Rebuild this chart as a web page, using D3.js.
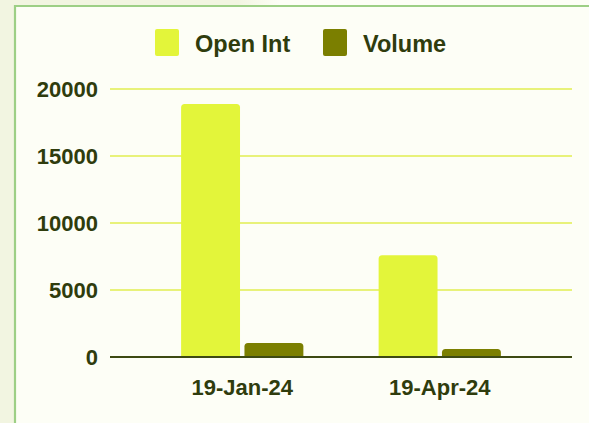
<!DOCTYPE html>
<html><head><meta charset="utf-8">
<script src="https://cdn.jsdelivr.net/npm/d3@7"></script>
<style>html,body{margin:0;padding:0;background:#fdfef6;overflow:hidden}</style>
</head><body>
<svg id="c" width="589" height="423"></svg>
<script>
const categories = ["19-Jan-24", "19-Apr-24"];
const seriesNames = ["Open Int", "Volume"];
const openInt = [18880, 7600];
const volume = [1050, 600];
const yTicks = [0, 5000, 10000, 15000, 20000];

const colors = {"Open Int": "#e3f53a", "Volume": "#7b7f00"};
const textColor = "#2f3c0d";
const font = "'Liberation Sans', Arial, Helvetica, sans-serif";

const svg = d3.select("#c");
const W = 589, H = 423;

// page background pieces
const defs = svg.append("defs");
const g1 = defs.append("linearGradient").attr("id","tg").attr("x1","0").attr("x2","1");
g1.append("stop").attr("offset","0").attr("stop-color","#f2f5e1");
g1.append("stop").attr("offset","0.85").attr("stop-color","#f2f5e1");
g1.append("stop").attr("offset","1").attr("stop-color","#fdfef6");
svg.append("rect").attr("x",0).attr("y",0).attr("width",W).attr("height",H).attr("fill","#fdfef6");
svg.append("rect").attr("x",0).attr("y",0).attr("width",280).attr("height",6).attr("fill","url(#tg)");
svg.append("rect").attr("x",0).attr("y",0).attr("width",14).attr("height",H).attr("fill","#f2f5e1");
// panel border
svg.append("path").attr("d",`M15,${H} V6 H${W}`).attr("fill","none").attr("stroke","#9dcf85").attr("stroke-width",2.2);

const pLeft = 110, pRight = 572, pTop = 89, pBottom = 357;
const x0 = d3.scaleBand().domain(categories).range([pLeft, pRight]).paddingInner(0.381).paddingOuter(0.36);
const x1 = d3.scaleBand().domain(seriesNames).range([0, x0.bandwidth()]).paddingInner(0.07);
const y = d3.scaleLinear().domain([0, 20000]).range([pBottom, pTop]);

// gridlines + y labels via axis
const yAxis = d3.axisLeft(y).tickValues(yTicks).tickSize(0).tickPadding(12).tickFormat(d3.format("d"));
const ya = svg.append("g").attr("transform",`translate(${pLeft},0)`).call(yAxis);
ya.select(".domain").remove();
ya.selectAll("text").attr("font-family",font).attr("font-weight","bold").attr("font-size","22px").attr("fill",textColor);
svg.append("g").selectAll("line").data(yTicks.filter(d=>d>0)).join("line")
  .attr("x1",pLeft).attr("x2",pRight).attr("y1",d=>y(d)).attr("y2",d=>y(d))
  .attr("stroke","#e8f27a").attr("stroke-width",2);

// bars
const data = categories.map((c,i)=>({cat:c, vals:[{k:"Open Int",v:openInt[i]},{k:"Volume",v:volume[i]}]}));
function topRounded(x, yTop, w, h, r){
  r = Math.min(r, h, w/2);
  return `M${x},${yTop+h} V${yTop+r} Q${x},${yTop} ${x+r},${yTop} H${x+w-r} Q${x+w},${yTop} ${x+w},${yTop+r} V${yTop+h} Z`;
}
svg.append("g").selectAll("g").data(data).join("g")
  .attr("transform",d=>`translate(${x0(d.cat)},0)`)
  .selectAll("path").data(d=>d.vals).join("path")
  .attr("d",d=>topRounded(x1(d.k), y(d.v), x1.bandwidth(), pBottom - y(d.v), 3.5))
  .attr("fill",d=>colors[d.k]);

// x axis
const xAxis = d3.axisBottom(x0).tickSize(0).tickPadding(22);
const xa = svg.append("g").attr("transform",`translate(0,${pBottom})`).call(xAxis);
xa.select(".domain").remove();
xa.selectAll("text").attr("font-family",font).attr("font-weight","bold").attr("font-size","22px").attr("fill",textColor);
svg.append("line").attr("x1",pLeft).attr("x2",pRight).attr("y1",pBottom).attr("y2",pBottom)
  .attr("stroke","#3d4a12").attr("stroke-width",2);

// legend
const legendItems = [{k:"Open Int", sx:155, tx:195},{k:"Volume", sx:323, tx:363}];
const lg = svg.append("g");
legendItems.forEach(it=>{
  lg.append("rect").attr("x",it.sx).attr("y",29).attr("width",24).attr("height",27).attr("rx",2)
    .attr("fill",colors[it.k]);
  lg.append("text").attr("x",it.tx).attr("y",51.5).text(it.k)
    .attr("font-family",font).attr("font-weight","bold").attr("font-size","23.5px").attr("fill",textColor);
});
</script>
</body></html>
